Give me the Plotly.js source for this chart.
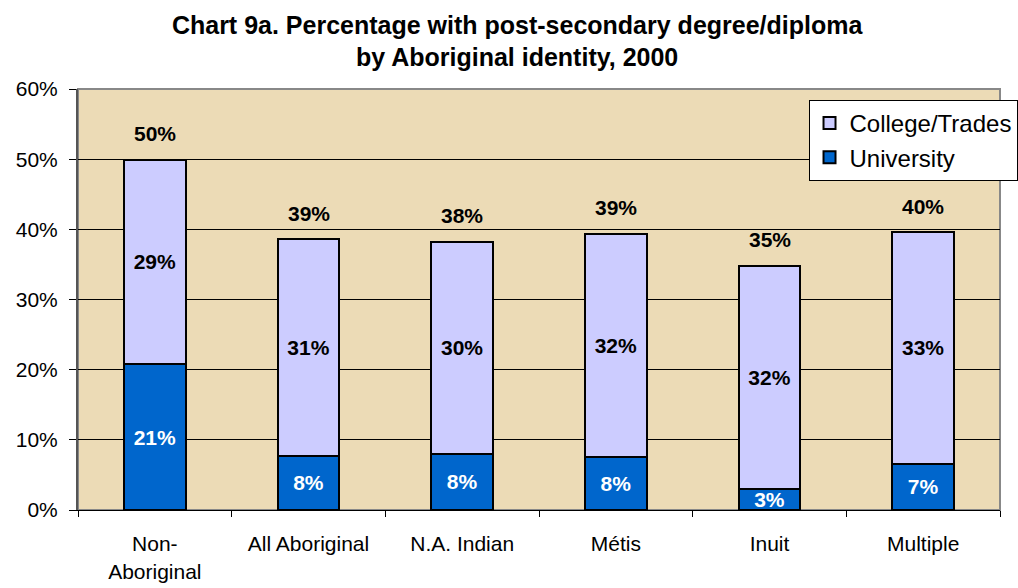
<!DOCTYPE html>
<html>
<head>
<meta charset="utf-8">
<script src="https://cdn.plot.ly/plotly-3.0.1.min.js"></script>
<style>html,body{margin:0;padding:0;background:#fff;}#chart{width:1018px;height:588px;}</style>
</head>
<body>
<div id="chart"></div>
<script>
const categories = ["Non-<br>Aboriginal", "All Aboriginal", "N.A. Indian", "Métis", "Inuit", "Multiple"];
const university = [20.8, 7.7, 8.0, 7.6, 3.0, 6.6];
const collegeTrades = [29.1, 30.9, 30.2, 31.8, 31.8, 33.0];
const totalLabels = ["50%", "39%", "38%", "39%", "35%", "40%"];
const universityLabels = ["21%", "8%", "8%", "8%", "3%", "7%"];
const collegeLabels = ["29%", "31%", "30%", "32%", "32%", "33%"];

const totals = university.map((u, i) => u + collegeTrades[i]);
const font = "Liberation Sans, Arial, sans-serif";

const traces = [
  {
    type: "bar", name: "University", x: categories, y: university,
    marker: {color: "#0066CC", line: {color: "#000", width: 2}},
    text: universityLabels, textposition: "inside", insidetextanchor: "middle",
    constraintext: "none",
    textfont: {family: font, size: 21, color: "#fff", weight: "bold"},
    hoverinfo: "none"
  },
  {
    type: "bar", name: "College/Trades", x: categories, y: collegeTrades,
    marker: {color: "#CCCCFF", line: {color: "#000", width: 2}},
    text: collegeLabels, textposition: "inside", insidetextanchor: "middle",
    constraintext: "none",
    textfont: {family: font, size: 21, color: "#000", weight: "bold"},
    hoverinfo: "none"
  }
];

const annotations = categories.map((c, i) => ({
  x: c, y: totals[i], xref: "x", yref: "y",
  text: "<b>" + totalLabels[i] + "</b>", showarrow: false,
  yanchor: "middle", yshift: 26,
  font: {family: font, size: 21, color: "#000"}
}));

const layout = {
  width: 1018, height: 588,
  margin: {l: 78, r: 18, t: 89, b: 78, autoexpand: false},
  paper_bgcolor: "#fff",
  plot_bgcolor: "#ECDBB6",
  barmode: "stack",
  bargap: 0.6,
  showlegend: true,
  annotations: annotations,
  title: {
    text: "<b>Chart 9a. Percentage with post-secondary degree/diploma<br>by Aboriginal identity, 2000</b>",
    font: {family: font, size: 25, color: "#000"},
    x: 0.508, xanchor: "center", y: 0.943, yanchor: "top"
  },
  legend: {
    x: 1.019, xanchor: "right", y: 0.974, yanchor: "top",
    bgcolor: "#fff", bordercolor: "#000", borderwidth: 1,
    traceorder: "reversed",
    font: {family: font, size: 24, color: "#000"},
    tracegroupgap: 0
  },
  xaxis: {
    type: "category",
    showgrid: false,
    ticks: "outside", tickson: "boundaries", ticklen: 6, tickcolor: "#000", tickwidth: 1,
    showline: true, linecolor: "#000", linewidth: 1,
    tickfont: {family: font, size: 21, color: "#000"},
    ticklabelstandoff: 15,
    fixedrange: true
  },
  yaxis: {
    range: [0, 60], dtick: 10, ticksuffix: "%",
    showgrid: true, gridcolor: "#000", gridwidth: 1,
    ticks: "outside", ticklen: 7, tickcolor: "#000",
    showline: true, linecolor: "#555", linewidth: 2,
    tickfont: {family: font, size: 21, color: "#000"},
    ticklabelstandoff: 7,
    zeroline: false, fixedrange: true
  },
  shapes: [
    {type: "rect", xref: "paper", yref: "paper", x0: 0, x1: 1, y0: 0, y1: 1,
     line: {color: "#888", width: 2}, fillcolor: "rgba(0,0,0,0)", layer: "below"}
  ]
};

Plotly.newPlot("chart", traces, layout, {displayModeBar: false, staticPlot: true});
</script>
</body>
</html>
